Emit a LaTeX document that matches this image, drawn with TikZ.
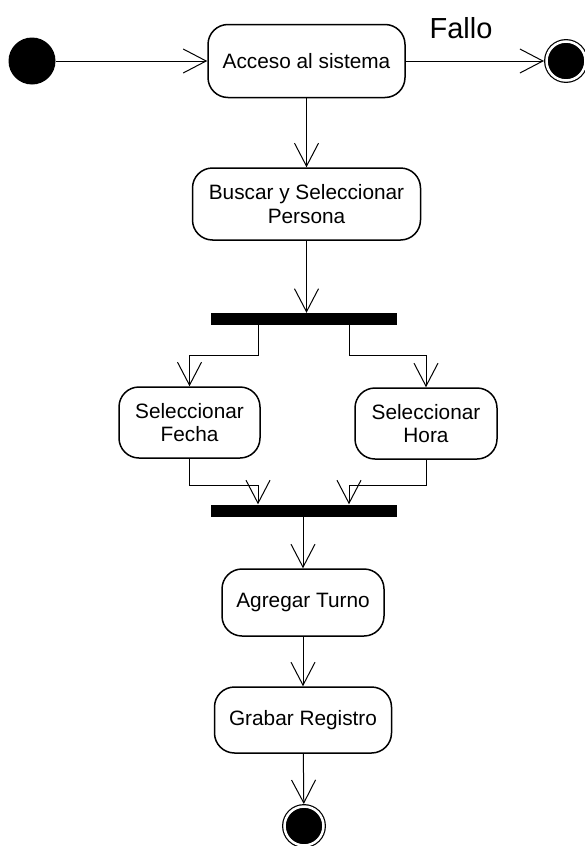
\documentclass[tikz,border=0pt]{standalone}
\usepackage{fontspec}
\setmainfont{Liberation Sans}
\usetikzlibrary{arrows.meta}
\begin{document}
\begin{tikzpicture}[x=1pt,y=-1pt,
  act/.style={draw, rounded corners=20pt, line width=1.5pt, align=center, inner sep=0pt,
    font=\fontsize{20.8}{23.5}\selectfont},
  bar/.style={fill=black, draw=none, minimum width=186pt, minimum height=12pt, inner sep=0pt},
  flow/.style={line width=1pt, -{Straight Barb[length=23pt,width=24pt,line width=1pt]}},
  startst/.style={circle, fill=black, minimum size=47pt, inner sep=0pt},
  endst/.style={circle, fill=black, draw=black, line width=1.2pt, double=white,
    double distance=2.5pt, minimum size=39pt, inner sep=0pt, outer sep=2.5pt}]
\useasboundingbox (0,0) rectangle (585,846);

% states and activities
\node[startst] (init) at (32,61) {};
\node[act, minimum width=197pt, minimum height=73pt] (acceso) at (306.5,61) {Acceso al sistema};
\node[endst] (fail) at (566,61) {};
\node[font=\fontsize{29}{33}\selectfont] (fallo) at (461,28) {Fallo};
\node[act, minimum width=228pt, minimum height=72pt] (buscar) at (306.5,204) {Buscar y Seleccionar\\Persona};
\node[bar] (fork) at (304,319) {};
\node[act, minimum width=141pt, minimum height=71pt] (fecha) at (189.5,422.5) {Seleccionar\\Fecha};
\node[act, minimum width=142pt, minimum height=71pt] (hora) at (426,423.5) {Seleccionar\\Hora};
\node[bar] (join) at (304,510.5) {};
\node[act, minimum width=162pt, minimum height=67pt] (agregar) at (303,602.5) {Agregar Turno};
\node[act, minimum width=177pt, minimum height=66pt] (grabar) at (303,720) {Grabar Registro};
\node[endst] (final) at (304,826) {};

% transitions
\draw[flow] (init) -- (acceso);
\draw[flow] (acceso) -- (fail);
\draw[flow] (acceso) -- (buscar);
\draw[flow] (buscar) -- (buscar.south |- fork.north);
\draw[flow] ([xshift=-46pt]fork.south) -- ++(0,30) -| (fecha.north);
\draw[flow] ([xshift=45pt]fork.south) -- ++(0,30) -| (hora.north);
\draw[flow] (fecha.south) |- ([xshift=-46pt,yshift=19pt]join.north) -- ([xshift=-46pt]join.north);
\draw[flow] (hora.south) |- ([xshift=45pt,yshift=19pt]join.north) -- ([xshift=45pt]join.north);
\draw[flow] (join.south -| agregar.north) -- (agregar.north);
\draw[flow] (agregar) -- (grabar);
\draw[flow] (grabar) -- (final);
\end{tikzpicture}
\end{document}
